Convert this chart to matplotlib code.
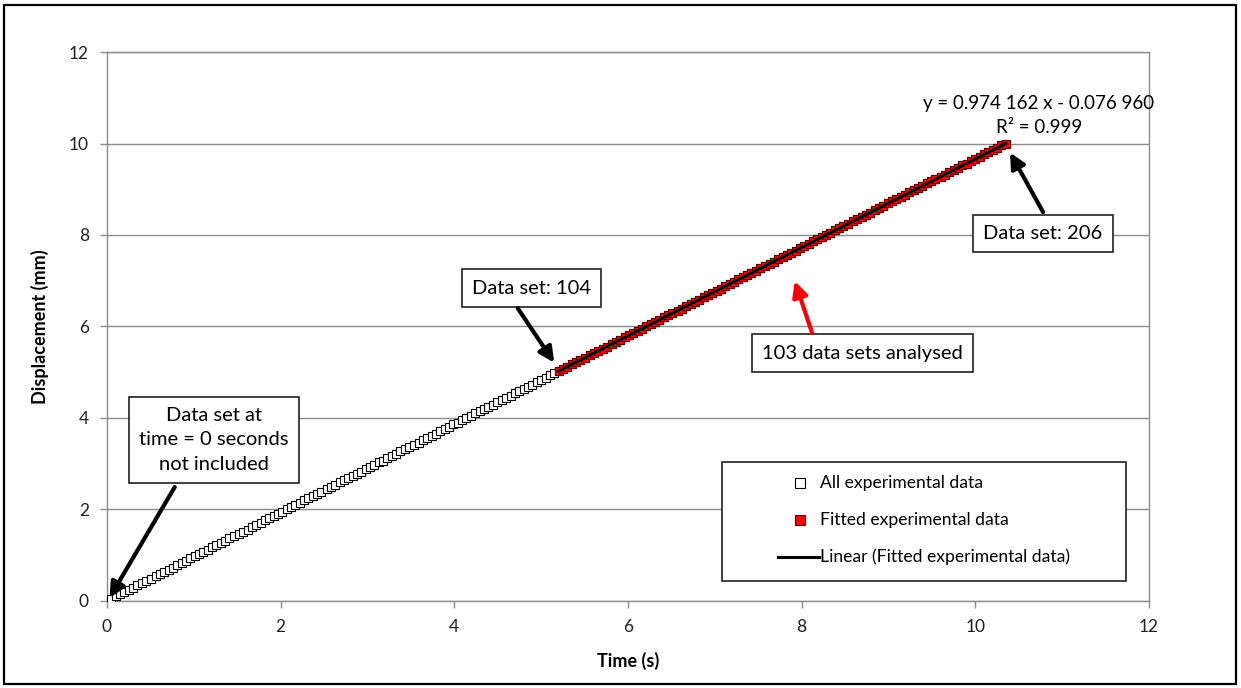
import numpy as np
import matplotlib
matplotlib.use("Agg")
import matplotlib.pyplot as plt
from matplotlib.patches import Rectangle

plt.rcParams['font.family'] = ['Lato', 'DejaVu Sans']

# Data sets 1..206 (time in s, displacement in mm)
time_s = [
    0.00, 0.05, 0.10, 0.15, 0.20, 0.25, 0.30, 0.35, 0.40, 0.45,
    0.51, 0.56, 0.61, 0.66, 0.71, 0.76, 0.81, 0.86, 0.91, 0.96,
    1.01, 1.06, 1.11, 1.16, 1.21, 1.26, 1.31, 1.36, 1.41, 1.46,
    1.52, 1.57, 1.62, 1.67, 1.72, 1.77, 1.82, 1.87, 1.92, 1.97,
    2.02, 2.07, 2.12, 2.17, 2.22, 2.27, 2.32, 2.37, 2.42, 2.47,
    2.53, 2.58, 2.63, 2.68, 2.73, 2.78, 2.83, 2.88, 2.93, 2.98,
    3.03, 3.08, 3.13, 3.18, 3.23, 3.28, 3.33, 3.38, 3.43, 3.48,
    3.54, 3.59, 3.64, 3.69, 3.74, 3.79, 3.84, 3.89, 3.94, 3.99,
    4.04, 4.09, 4.14, 4.19, 4.24, 4.29, 4.34, 4.39, 4.44, 4.49,
    4.55, 4.60, 4.65, 4.70, 4.75, 4.80, 4.85, 4.90, 4.95, 5.00,
    5.05, 5.10, 5.15, 5.20, 5.25, 5.30, 5.35, 5.40, 5.45, 5.50,
    5.56, 5.61, 5.66, 5.71, 5.76, 5.81, 5.86, 5.91, 5.96, 6.01,
    6.06, 6.11, 6.16, 6.21, 6.26, 6.31, 6.36, 6.41, 6.46, 6.51,
    6.57, 6.62, 6.67, 6.72, 6.77, 6.82, 6.87, 6.92, 6.97, 7.02,
    7.07, 7.12, 7.17, 7.22, 7.27, 7.32, 7.37, 7.42, 7.47, 7.52,
    7.58, 7.63, 7.68, 7.73, 7.78, 7.83, 7.88, 7.93, 7.98, 8.03,
    8.08, 8.13, 8.18, 8.23, 8.28, 8.33, 8.38, 8.43, 8.48, 8.53,
    8.59, 8.64, 8.69, 8.74, 8.79, 8.84, 8.89, 8.94, 8.99, 9.04,
    9.09, 9.14, 9.19, 9.24, 9.29, 9.34, 9.39, 9.44, 9.49, 9.54,
    9.60, 9.65, 9.70, 9.75, 9.80, 9.85, 9.90, 9.95, 10.00, 10.05,
    10.10, 10.15, 10.20, 10.25, 10.30, 10.35,
]
displacement_mm = [
    0.00, 0.05, 0.10, 0.15, 0.20, 0.24, 0.29, 0.34, 0.39, 0.44,
    0.49, 0.54, 0.59, 0.63, 0.68, 0.73, 0.78, 0.83, 0.88, 0.93,
    0.98, 1.02, 1.07, 1.12, 1.17, 1.22, 1.27, 1.32, 1.37, 1.42,
    1.46, 1.51, 1.56, 1.61, 1.66, 1.71, 1.76, 1.81, 1.85, 1.90,
    1.95, 2.00, 2.05, 2.10, 2.15, 2.20, 2.24, 2.29, 2.34, 2.39,
    2.44, 2.49, 2.54, 2.59, 2.64, 2.68, 2.73, 2.78, 2.83, 2.88,
    2.93, 2.98, 3.03, 3.07, 3.12, 3.17, 3.22, 3.27, 3.32, 3.37,
    3.42, 3.46, 3.51, 3.56, 3.61, 3.66, 3.71, 3.76, 3.81, 3.86,
    3.90, 3.95, 4.00, 4.05, 4.10, 4.15, 4.20, 4.25, 4.29, 4.34,
    4.39, 4.44, 4.49, 4.54, 4.59, 4.64, 4.68, 4.73, 4.78, 4.83,
    4.88, 4.93, 4.98, 5.03, 5.08, 5.12, 5.17, 5.22, 5.27, 5.32,
    5.37, 5.42, 5.47, 5.51, 5.56, 5.61, 5.66, 5.71, 5.76, 5.81,
    5.86, 5.90, 5.95, 6.00, 6.05, 6.10, 6.15, 6.20, 6.25, 6.30,
    6.34, 6.39, 6.44, 6.49, 6.54, 6.59, 6.64, 6.69, 6.73, 6.78,
    6.83, 6.88, 6.93, 6.98, 7.03, 7.08, 7.12, 7.17, 7.22, 7.27,
    7.32, 7.37, 7.42, 7.47, 7.52, 7.56, 7.61, 7.66, 7.71, 7.76,
    7.81, 7.86, 7.91, 7.95, 8.00, 8.05, 8.10, 8.15, 8.20, 8.25,
    8.30, 8.34, 8.39, 8.44, 8.49, 8.54, 8.59, 8.64, 8.69, 8.74,
    8.78, 8.83, 8.88, 8.93, 8.98, 9.03, 9.08, 9.13, 9.17, 9.22,
    9.27, 9.32, 9.37, 9.42, 9.47, 9.52, 9.56, 9.61, 9.66, 9.71,
    9.76, 9.81, 9.86, 9.91, 9.96, 10.00,
]

# fitted range: data set 104 .. 206
fit_start = 103
equation_text = "y = 0.974 162 x - 0.076 960\nR\u00b2 = 0.999"

t = np.array(time_s)
d = np.array(displacement_mm)
t_fit = t[fit_start:]
d_fit = d[fit_start:]
slope, intercept = np.polyfit(t_fit, d_fit, 1)

fig = plt.figure(figsize=(12.41, 6.88), dpi=100)
ax = fig.add_axes([0.0862, 0.1265, 0.8397, 0.7979])

grid_c = '#8c8c8c'
ms = 6.3
ax.plot(t, d, linestyle='none', marker='s', markersize=ms,
        markerfacecolor='white', markeredgecolor='black', markeredgewidth=0.8, zorder=3)
ax.plot(t_fit, d_fit, linestyle='none', marker='s', markersize=ms,
        markerfacecolor='#ff0000', markeredgecolor='#600000', markeredgewidth=0.8, zorder=4)
xx = np.array([t_fit[0], t_fit[-1]])
ax.plot(xx, slope * xx + intercept, color='black', linewidth=2.2, zorder=5)

ax.set_xlim(0, 12)
ax.set_ylim(0, 12)
ax.set_xticks(np.arange(0, 13, 2))
ax.set_yticks(np.arange(0, 13, 2))
ax.yaxis.grid(True, color=grid_c, linewidth=1.0)
ax.set_axisbelow(True)
for s in ax.spines.values():
    s.set_color(grid_c)
    s.set_linewidth(1.0)
ax.tick_params(axis='both', direction='out', length=5, width=1.0, color=grid_c,
               labelsize=12.5, labelcolor='#202020', pad=8)
ax.set_xlabel('Time (s)', fontsize=13, fontweight='bold', labelpad=12)
ax.set_ylabel('Displacement (mm)', fontsize=13, fontweight='bold', labelpad=14)

box = dict(boxstyle='square,pad=0.5', facecolor='white', edgecolor='#202020', linewidth=1.2)
arr = dict(arrowstyle='-|>,head_length=0.9,head_width=0.45', color='black', lw=3.0,
           shrinkA=0, shrinkB=0)
txt_size = 14.5

ax.annotate('Data set at\ntime = 0 seconds\nnot included', xy=(0.03, 0.07), xytext=(1.23, 3.52),
            ha='center', va='center', fontsize=txt_size,
            bbox=dict(boxstyle='square,pad=0.5', facecolor='white', edgecolor='#202020', linewidth=1.2),
            zorder=6, linespacing=1.55)
ax.annotate('', xy=(0.03, 0.07), xytext=(0.78, 2.49), arrowprops=arr, zorder=7)

ax.annotate('Data set: 104', xy=(t_fit[0], d_fit[0]), xytext=(4.89, 6.84),
            ha='center', va='center', fontsize=txt_size, bbox=box, zorder=6)
ax.annotate('', xy=(t_fit[0] - 0.05, d_fit[0] + 0.18), xytext=(4.73, 6.4), arrowprops=arr, zorder=7)

ax.annotate('103 data sets analysed', xy=(0, 0), xytext=(8.7, 5.42),
            ha='center', va='center', fontsize=txt_size, bbox=box, zorder=6)
arr_red = dict(arr, color='#ff0000')
ax.annotate('', xy=(7.92, 6.99), xytext=(8.12, 5.86), arrowprops=arr_red, zorder=7)

ax.annotate('Data set: 206', xy=(0, 0), xytext=(10.78, 8.04),
            ha='center', va='center', fontsize=txt_size, bbox=box, zorder=6)
ax.annotate('', xy=(t_fit[-1] + 0.05, d_fit[-1] - 0.2), xytext=(10.78, 8.5), arrowprops=arr, zorder=7)

ax.text(10.73, 10.62, equation_text, ha='center', va='center', fontsize=13.5,
        linespacing=1.5, zorder=6)

# legend drawn in axes coordinates
ax.add_patch(Rectangle((0.590, 0.0364), 0.388, 0.2166, transform=ax.transAxes,
                       facecolor='white', edgecolor='#202020', linewidth=1.2, zorder=8))
rows = [0.215, 0.1475, 0.080]
labels = ['All experimental data', 'Fitted experimental data', 'Linear (Fitted experimental data)']
ax.plot([0.665], [rows[0]], transform=ax.transAxes, marker='s', markersize=6.5,
        markerfacecolor='white', markeredgecolor='black', markeredgewidth=0.8, zorder=9, clip_on=False)
ax.plot([0.665], [rows[1]], transform=ax.transAxes, marker='s', markersize=6.5,
        markerfacecolor='#ff0000', markeredgecolor='#600000', markeredgewidth=0.8, zorder=9, clip_on=False)
ax.plot([0.644, 0.683], [rows[2], rows[2]], transform=ax.transAxes, color='black',
        linewidth=2.2, zorder=9, clip_on=False)
for y, lab in zip(rows, labels):
    ax.text(0.684, y, lab, transform=ax.transAxes, ha='left', va='center',
            fontsize=12.6, zorder=9)

# outer chart border
fig.patches.append(Rectangle((4 / 1241, 4 / 688), 1232 / 1241, 679 / 688,
                             transform=fig.transFigure, fill=False,
                             edgecolor='black', linewidth=1.6))

fig.savefig('out.png', dpi=100)
